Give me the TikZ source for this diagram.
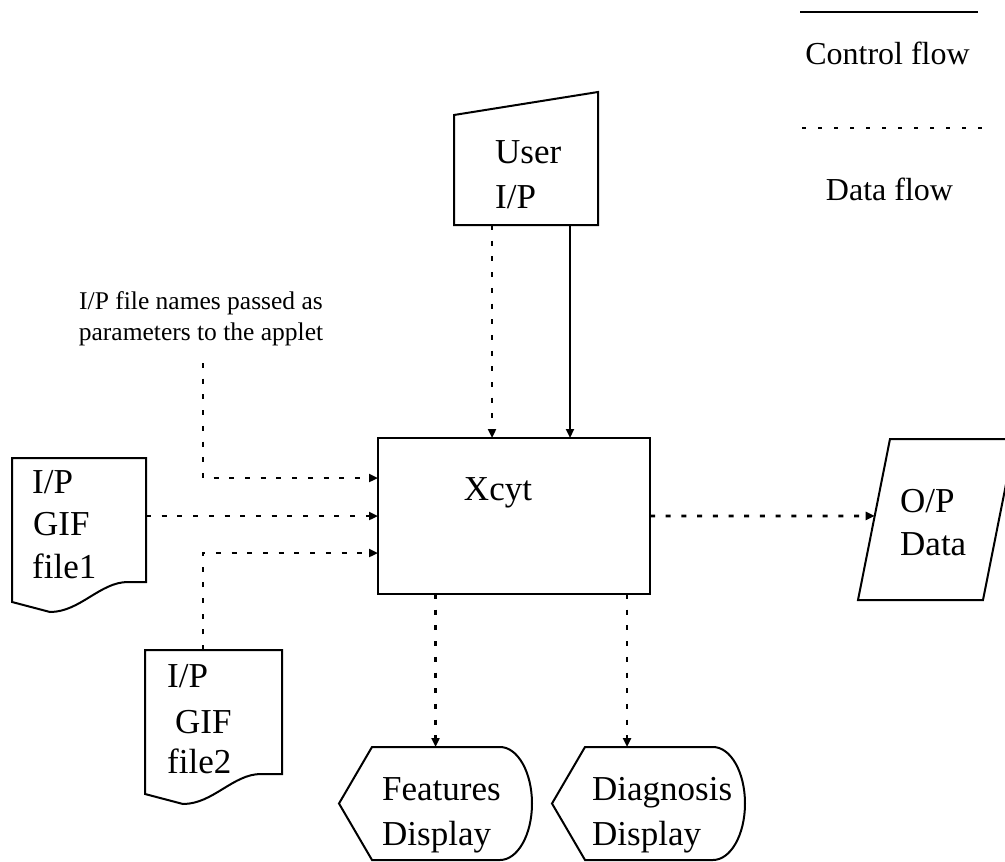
\documentclass[tikz,border=0pt]{standalone}
\usepackage{fontspec}
\setmainfont{Liberation Serif}
\usetikzlibrary{arrows.meta,calc}

% document symbol with a wavy lower edge
\newcommand\docshape[1]{%
  \draw[shapeline] (#1.north west) -- (#1.north east)
    -- ($(#1.north east)+(0,124)$) -- ($(#1.north west)+(116,124)$)
    .. controls ($(#1.north west)+(88,124)$) and ($(#1.north west)+(68,154)$)
    .. ($(#1.north west)+(38,154)$) -- ($(#1.north west)+(0,144)$) -- cycle;}

% display symbol: pointed left end, rounded right end
\newcommand\dispshape[1]{%
  \draw[shapeline] (#1.west) -- ($(#1.north west)+(33,0)$) -- ($(#1.north east)+(-32,0)$)
    .. controls ($(#1.north east)+(-14.3,0)$) and ($(#1.east)+(0,-31.2)$) .. (#1.east)
    .. controls ($(#1.east)+(0,31.2)$) and ($(#1.south east)+(-14.3,0)$)
    .. ($(#1.south east)+(-32,0)$) -- ($(#1.south west)+(33,0)$) -- cycle;}

\begin{document}
\begin{tikzpicture}[x=1pt,y=-1pt,
  shapeline/.style={draw=black, line width=2pt, line join=miter},
  region/.style={draw=none, inner sep=0pt, outer sep=0pt},
  boxtext/.style={inner sep=0pt, font=\fontsize{35}{42}\selectfont, anchor=base west},
  legtext/.style={inner sep=0pt, font=\fontsize{32}{38}\selectfont, anchor=base},
  notetext/.style={inner sep=0pt, font=\fontsize{25.5}{31}\selectfont, anchor=base},
  tip/.style={-{Triangle[length=9pt,width=8pt]}},
  dataflow/.style={tip, line width=2.8pt, dash pattern=on 5pt off 10.7pt},
  ctrlflow/.style={tip, line width=2.2pt},
]
\useasboundingbox (0,0) rectangle (1005,862);

% ---- legend ----
\coordinate (lg-c1) at (800,12);
\coordinate (lg-c2) at (978,12);
\draw[line width=2.2pt] (lg-c1) -- (lg-c2);
\node[legtext] (lg-ctext) at (887.5,64) {Control flow};
\coordinate (lg-d1) at (802,128);
\coordinate (lg-d2) at (982,128);
\draw[line width=2.8pt, dash pattern=on 4pt off 12pt] (lg-d1) -- (lg-d2);
\node[legtext] (lg-dtext) at (889.5,200) {Data flow};

% ---- central process ----
\node[shapeline, inner sep=0pt, outer sep=0pt, minimum width=272pt, minimum height=156pt]
  (xcyt) at (514,516) {};
\node[boxtext, anchor=base] (xcyt-t) at (498,500) {Xcyt};

% ---- manual input ----
\node[region, minimum width=144pt, minimum height=133pt] (user) at (526,158.5) {};
\draw[shapeline] (user.south west) -- (user.south east) -- (user.north east)
  -- ($(user.north west)+(0,23)$) -- cycle;
\node[boxtext] (user-a) at (495,163) {User};
\node[boxtext] (user-b) at (495,208) {I/P};

% ---- input files ----
\node[region, minimum width=134pt, minimum height=154pt] (f1) at (79,535) {};
\docshape{f1}
\node[boxtext] (f1-a) at (32,493) {I/P};
\node[boxtext] (f1-b) at (33,535) {GIF};
\node[boxtext] (f1-c) at (32,578) {file1};

\node[region, minimum width=137pt, minimum height=155pt] (f2) at (213.5,727.5) {};
\docshape{f2}
\node[boxtext] (f2-a) at (167,687) {I/P};
\node[boxtext] (f2-b) at (175,733) {GIF};
\node[boxtext] (f2-c) at (167,773) {file2};

% ---- output data ----
\node[region, minimum width=157pt, minimum height=161pt] (op) at (936.5,519.5) {};
\coordinate (op-tl) at ($(op.north west)+(32,0)$);
\coordinate (op-br) at ($(op.south east)+(-32,0)$);
\draw[shapeline] (op-tl) -- (op.north east) -- (op-br) -- (op.south west) -- cycle;
\node[boxtext] (op-a) at (900,512) {O/P};
\node[boxtext] (op-b) at (900,555) {Data};
\coordinate (op-in) at ($(op-tl)!0.478!(op.south west)$);

% ---- displays ----
\node[region, minimum width=193pt, minimum height=113pt] (feat) at (435.5,803.5) {};
\dispshape{feat}
\node[boxtext] (feat-a) at (382,800) {Features};
\node[boxtext] (feat-b) at (382,845) {Display};

\node[region, minimum width=193pt, minimum height=113pt] (diag) at (648.5,803.5) {};
\dispshape{diag}
\node[boxtext] (diag-a) at (592,800) {Diagnosis};
\node[boxtext] (diag-b) at (592,845) {Display};

% ---- annotation ----
\node[notetext] (note-a) at (201,309) {I/P file names passed as};
\node[notetext] (note-b) at (201,340) {parameters to the applet};
\coordinate (note-foot) at (203,363);

% ---- connectors ----
\coordinate (u-data) at ([xshift=-34pt]user.south);
\coordinate (u-ctrl) at ([xshift=44pt]user.south);
\draw[dataflow] (u-data) -- (u-data |- xcyt.north);
\draw[ctrlflow] (u-ctrl) -- (u-ctrl |- xcyt.north);

\coordinate (x-in1) at ([yshift=38pt]xcyt.west);
\coordinate (x-in3) at ([yshift=-37pt]xcyt.west);
\draw[dataflow] (note-foot) |- (x-in1);
\draw[dataflow] (xcyt.west -| f1.east) -- (xcyt.west);
\coordinate (f2-out) at ([xshift=-10.5pt]f2.north);
\draw[dataflow] (f2-out) |- (x-in3);

\draw[dataflow] (xcyt.east) -- (op-in);

\coordinate (d-in) at ([xshift=-21.5pt]diag.north);
\draw[dataflow] (feat.north |- xcyt.south) -- (feat.north);
\draw[dataflow] (d-in |- xcyt.south) -- (d-in);
\end{tikzpicture}
\end{document}
